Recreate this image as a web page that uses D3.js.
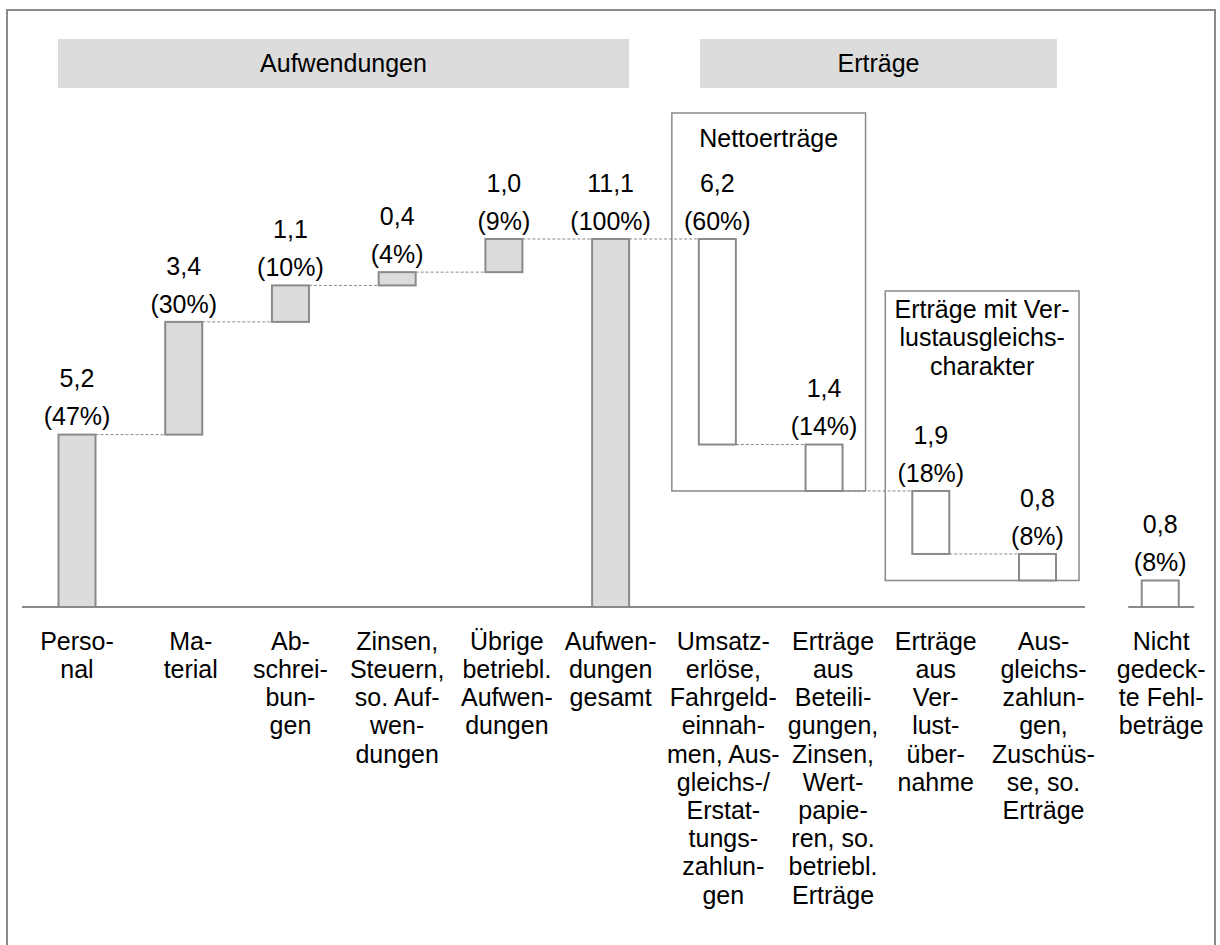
<!DOCTYPE html>
<html>
<head>
<meta charset="utf-8">
<script src="https://cdn.jsdelivr.net/npm/d3@7"></script>
<style>
  html, body { margin: 0; padding: 0; background: #fff; }
  svg { display: block; }
  text { font-family: "Liberation Sans", Arial, sans-serif; fill: #000; }
</style>
</head>
<body>
<svg id="chart" width="1220" height="945"></svg>
<script>
// ---- data ----
const categories = [
  ["Perso-", "nal"],
  ["Ma-", "terial"],
  ["Ab-", "schrei-", "bun-", "gen"],
  ["Zinsen,", "Steuern,", "so. Auf-", "wen-", "dungen"],
  ["Übrige", "betriebl.", "Aufwen-", "dungen"],
  ["Aufwen-", "dungen", "gesamt"],
  ["Umsatz-", "erlöse,", "Fahrgeld-", "einnah-", "men, Aus-", "gleichs-/", "Erstat-", "tungs-", "zahlun-", "gen"],
  ["Erträge", "aus", "Beteili-", "gungen,", "Zinsen,", "Wert-", "papie-", "ren, so.", "betriebl.", "Erträge"],
  ["Erträge", "aus", "Ver-", "lust-", "über-", "nahme"],
  ["Aus-", "gleichs-", "zahlun-", "gen,", "Zuschüs-", "se, so.", "Erträge"],
  ["Nicht", "gedeck-", "te Fehl-", "beträge"]
];
const values = [5.2, 3.4, 1.1, 0.4, 1.0, 11.1, 6.2, 1.4, 1.9, 0.8, 0.8];
const percents = [47, 30, 10, 4, 9, 100, 60, 14, 18, 8, 8];
const kinds = ["up", "up", "up", "up", "up", "total", "down", "down", "down", "down", "gap"];
const sectionTitles = ["Aufwendungen", "Erträge"];
const groupTitles = [["Nettoerträge"], ["Erträge mit Ver-", "lustausgleichs-", "charakter"]];

// ---- layout ----
const svg = d3.select("#chart");
const fmt = d3.formatLocale({decimal: ",", thousands: ".", grouping: [3], currency: ["", "€"]}).format(".1f");

let cum = 0;
const bars = values.map((v, i) => {
  let start, end;
  if (kinds[i] === "up") { start = cum; end = cum + v; cum = end; }
  else if (kinds[i] === "total") { start = 0; end = v; cum = v; }
  else if (kinds[i] === "down") { start = cum; end = cum - v; cum = end; }
  else { start = 0; end = v; }
  return {i, v, start, end, kind: kinds[i], pct: percents[i], lines: categories[i]};
});

const baseY = 607;
const y = d3.scaleLinear().domain([0, 11.1]).range([baseY, 239]);
const xi = d3.scaleLinear().domain([0, 9]).range([77, 1037.5]);
const gapSlots = 0.15;
const xc = i => i === 10 ? xi(10 + gapSlots) : xi(i);
const bw = 37;
const STROKE = "#8a8a8a";
const FS = 25;
const labelDx = [0, 7, 0, 0, 3, 0, 6, 9, 5, 6, 1];

// outer frame
svg.append("rect").attr("x", 7).attr("y", 10).attr("width", 1208).attr("height", 960)
  .attr("fill", "none").attr("stroke", STROKE).attr("stroke-width", 2);

// section header bands
const bands = [
  {title: sectionTitles[0], x0: 58, x1: 629},
  {title: sectionTitles[1], x0: 700, x1: 1057}
];
bands.forEach(b => {
  svg.append("rect").attr("x", b.x0).attr("y", 39).attr("width", b.x1 - b.x0).attr("height", 49)
    .attr("fill", "#dcdcdc");
  svg.append("text").attr("x", (b.x0 + b.x1) / 2).attr("y", 63).attr("dy", "0.35em")
    .attr("text-anchor", "middle").attr("font-size", FS).text(b.title);
});

const barTop = d => y(Math.max(d.start, d.end));
const barBot = d => y(Math.min(d.start, d.end));

// group boxes
const groups = [
  {from: 6, to: 7, y0: 113, title: groupTitles[0], ty: 138},
  {from: 8, to: 9, y0: 291, title: groupTitles[1], ty: 309}
];
groups.forEach(g => {
  const x0 = xc(g.from) - bw / 2 - 27;
  const x1 = xc(g.to) + bw / 2 + 23;
  const y1 = barBot(bars[g.to]);
  svg.append("rect").attr("x", x0).attr("y", g.y0).attr("width", x1 - x0).attr("height", y1 - g.y0)
    .attr("fill", "none").attr("stroke", STROKE).attr("stroke-width", 1.5);
  g.title.forEach((t, k) => {
    svg.append("text").attr("x", (x0 + x1) / 2).attr("y", g.ty + k * 28.5).attr("dy", "0.35em")
      .attr("text-anchor", "middle").attr("font-size", FS).text(t);
  });
});

// connectors
for (let i = 0; i < 9; i++) {
  const yy = y(bars[i].end);
  svg.append("line").attr("x1", xc(i) + bw / 2).attr("x2", xc(i + 1) - bw / 2)
    .attr("y1", yy).attr("y2", yy)
    .attr("stroke", STROKE).attr("stroke-width", 1).attr("stroke-dasharray", "3,2");
}

// baseline
svg.append("line").attr("x1", 22).attr("x2", 1085).attr("y1", baseY).attr("y2", baseY)
  .attr("stroke", STROKE).attr("stroke-width", 2);
svg.append("line").attr("x1", xc(10) - 32).attr("x2", xc(10) + 34).attr("y1", baseY).attr("y2", baseY)
  .attr("stroke", STROKE).attr("stroke-width", 2);

// bars
svg.selectAll("rect.bar").data(bars).join("rect").attr("class", "bar")
  .attr("x", d => xc(d.i) - bw / 2).attr("width", bw)
  .attr("y", d => barTop(d)).attr("height", d => barBot(d) - barTop(d))
  .attr("fill", d => (d.kind === "up" || d.kind === "total") ? "#dcdcdc" : "#ffffff")
  .attr("stroke", STROKE).attr("stroke-width", 2);

// value labels
bars.forEach(d => {
  const t = barTop(d);
  svg.append("text").attr("x", xc(d.i)).attr("y", t - 56).attr("dy", "0.35em")
    .attr("text-anchor", "middle").attr("font-size", FS).text(fmt(d.v));
  svg.append("text").attr("x", xc(d.i)).attr("y", t - 18).attr("dy", "0.35em")
    .attr("text-anchor", "middle").attr("font-size", FS).text("(" + d.pct + "%)");
});

// category labels
bars.forEach(d => {
  d.lines.forEach((ln, k) => {
    svg.append("text").attr("x", xc(d.i) + labelDx[d.i]).attr("y", 641 + k * 28.2).attr("dy", "0.35em")
      .attr("text-anchor", "middle").attr("font-size", FS).text(ln);
  });
});
</script>
</body>
</html>
